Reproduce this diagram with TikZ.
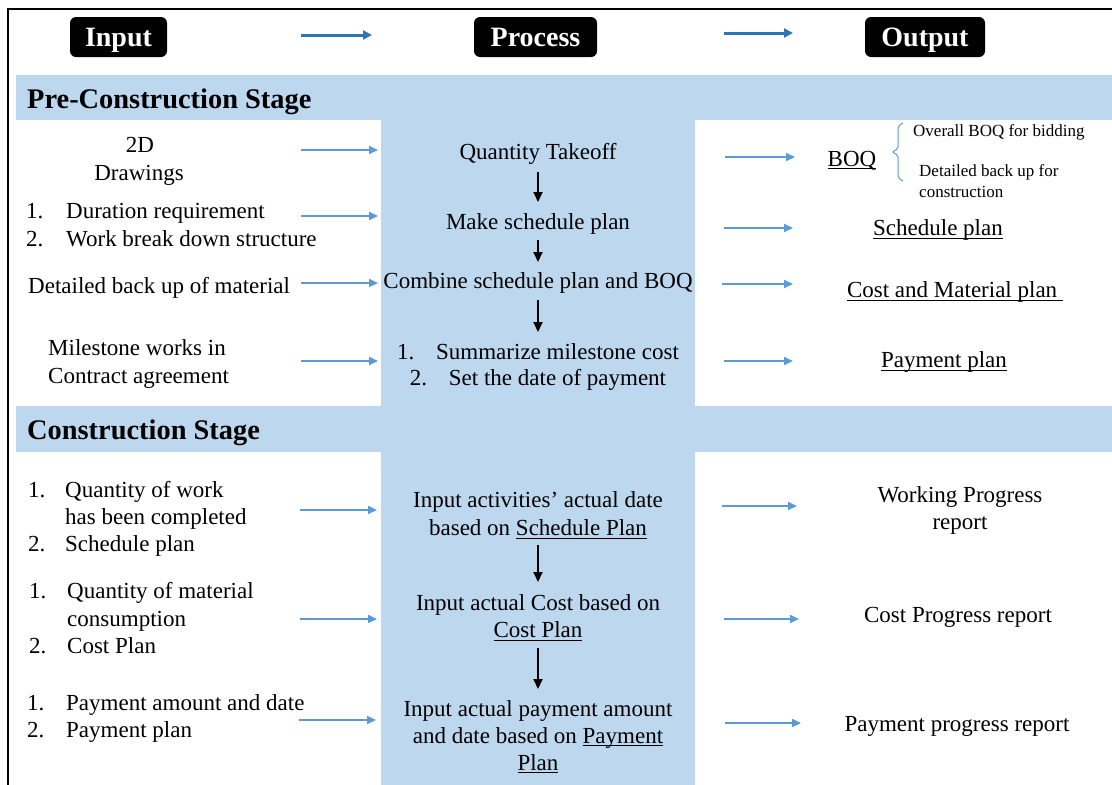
\documentclass[tikz,border=0pt]{standalone}
\usepackage{fontspec}
\setmainfont{Liberation Serif}
\usetikzlibrary{arrows.meta}

\definecolor{bandblue}{HTML}{BDD7EE}
\definecolor{flowblue}{HTML}{5B9BD5}
\definecolor{headblue}{HTML}{2E75B6}

% underline at a fixed depth below the baseline
\newcommand{\ulx}[1]{\setbox0\hbox{#1}\rlap{\vrule width\wd0 height -2.1pt depth 3.2pt}\box0}
% hanging list number of a given width
\newcommand{\listnum}[2]{\makebox[#1][l]{#2}}

\tikzset{
  body/.style={font=\fontsize{23}{27.5}\selectfont, inner sep=0pt},
  small/.style={font=\fontsize{17}{20}\selectfont, inner sep=0pt},
  stage/.style={font=\fontsize{28.4}{32}\selectfont\bfseries, inner sep=0pt, anchor=base west},
  hdr/.style={fill=black, rounded corners=6pt, text=white,
    font=\fontsize{28}{32}\selectfont\bfseries, minimum height=40pt,
    text height=19pt, text depth=0pt, inner sep=0pt},
  flow/.style={draw=flowblue, line width=2pt, -{Triangle[length=9pt,width=8pt]}},
  hflow/.style={draw=headblue, line width=3pt, -{Triangle[length=9pt,width=9pt]}},
  down/.style={draw=black, line width=2pt, -{Triangle[length=10pt,width=9pt]}},
  brace/.style={draw=flowblue, line width=1pt, rounded corners=2pt},
}

\begin{document}
\begin{tikzpicture}[x=1pt,y=-1pt]
\useasboundingbox (0,0) rectangle (1112,785);

% frame
\draw[line width=2pt] (1112,9) -- (8,9) -- (8,785);

% stage bands and the process column
\fill[bandblue] (16,75) rectangle (1112,120);
\fill[bandblue] (16,406) rectangle (1112,452);
\fill[bandblue] (381,120) rectangle (695,785);

% column headers
\node[hdr, minimum width=97pt]  (hin)  at (118.5,37) {Input};
\node[hdr, minimum width=123pt] (hpr)  at (535.5,37) {Process};
\node[hdr, minimum width=120pt] (hout) at (925,37)   {Output};
\coordinate (h1s) at (301,35);  \coordinate (h1e) at (372,35);
\coordinate (h2s) at (724,33);  \coordinate (h2e) at (793,33);
\draw[hflow] (h1s) -- (h1e);
\draw[hflow] (h2s) -- (h2e);

% stage titles
\node[stage] (pre) at (27,108) {Pre-Construction Stage};
\node[stage] (con) at (27,439) {Construction Stage};

% ---------- pre-construction: inputs ----------
\node[body, anchor=base] (i1a) at (140,152.5) {2D};
\node[body, anchor=base] (i1b) at (139,180.5) {Drawings};
\node[body, anchor=base west] (i2a) at (26,218.5) {\listnum{40pt}{1.}Duration requirement};
\node[body, anchor=base west] (i2b) at (26,246.5) {\listnum{40pt}{2.}Work break down structure};
\node[body, anchor=base west] (i3)  at (28,293.5) {Detailed back up of material};
\node[body, anchor=base west] (i4a) at (48,355.5) {Milestone works in};
\node[body, anchor=base west] (i4b) at (48,383.5) {Contract agreement};

% ---------- pre-construction: process ----------
\node[body, anchor=base] (p1)  at (538,159.5) {Quantity Takeoff};
\node[body, anchor=base] (p2)  at (538,229)   {Make schedule plan};
\node[body, anchor=base] (p3)  at (538,288.5) {Combine schedule plan and BOQ};
\node[body, anchor=base] (p4a) at (538,359.3) {1.\hspace{0.95em}Summarize milestone cost};
\node[body, anchor=base] (p4b) at (538,385)   {2.\hspace{0.95em}Set the date of payment};

% ---------- pre-construction: outputs ----------
\node[body, anchor=base] (o1) at (852,166)   {\ulx{BOQ}};
\node[small, anchor=base west] (o1a) at (913,136.7) {Overall BOQ for bidding};
\node[small, anchor=base west] (o1b) at (919,176.7) {Detailed back up for};
\node[small, anchor=base west] (o1c) at (919,197)   {construction};
\node[body, anchor=base] (o2) at (938,235.5) {\ulx{Schedule plan}};
\node[body, anchor=base] (o3) at (955,297.5) {\ulx{Cost and Material plan\ }};
\node[body, anchor=base] (o4) at (944,367.5) {\ulx{Payment plan}};

% BOQ split brace
\draw[brace] (903,123) -- (898,126) -- (898,149) -- (892,152) -- (898,155) -- (898,178) -- (903,181);

% ---------- construction: inputs ----------
\node[body, anchor=base west] (i5a) at (28,497) {\listnum{37pt}{1.}Quantity of work};
\node[body, anchor=base west] (i5b) at (65,524) {has been completed};
\node[body, anchor=base west] (i5c) at (28,551) {\listnum{37pt}{2.}Schedule plan};
\node[body, anchor=base west] (i6a) at (29,598) {\listnum{38pt}{1.}Quantity of material};
\node[body, anchor=base west] (i6b) at (67,626) {consumption};
\node[body, anchor=base west] (i6c) at (29,653) {\listnum{38pt}{2.}Cost Plan};
\node[body, anchor=base west] (i7a) at (27,710.5) {\listnum{39pt}{1.}Payment amount and date};
\node[body, anchor=base west] (i7b) at (27,737.5) {\listnum{39pt}{2.}Payment plan};

% ---------- construction: process ----------
\node[body, anchor=base] (p5a) at (538,507.5) {Input activities’ actual date};
\node[body, anchor=base] (p5b) at (538,535.5) {based on \ulx{Schedule Plan}};
\node[body, anchor=base] (p6a) at (538,610.5) {Input actual Cost based on};
\node[body, anchor=base] (p6b) at (538,637.5) {\ulx{Cost Plan}};
\node[body, anchor=base] (p7a) at (538,716)   {Input actual payment amount};
\node[body, anchor=base] (p7b) at (538,743)   {and date based on \ulx{Payment}};
\node[body, anchor=base] (p7c) at (538,770)   {\ulx{Plan}};

% ---------- construction: outputs ----------
\node[body, anchor=base] (o5a) at (960,502.5) {Working Progress};
\node[body, anchor=base] (o5b) at (960,529.5) {report};
\node[body, anchor=base] (o6)  at (958,622.5) {Cost Progress report};
\node[body, anchor=base] (o7)  at (957,731)   {Payment progress report};

% ---------- input -> process arrows ----------
\coordinate (a1s) at (301,150); \coordinate (a1e) at (378,150);
\coordinate (a2s) at (301,216); \coordinate (a2e) at (378,216);
\coordinate (a3s) at (301,283); \coordinate (a3e) at (378,283);
\coordinate (a4s) at (301,361); \coordinate (a4e) at (378,361);
\coordinate (a5s) at (300,510); \coordinate (a5e) at (377,510);
\coordinate (a6s) at (300,619); \coordinate (a6e) at (377,619);
\coordinate (a7s) at (299,720); \coordinate (a7e) at (376,720);
\foreach \k in {1,...,7} \draw[flow] (a\k s) -- (a\k e);

% ---------- process -> output arrows ----------
\coordinate (b1s) at (725,157); \coordinate (b1e) at (795,157);
\coordinate (b2s) at (724,228); \coordinate (b2e) at (793,228);
\coordinate (b3s) at (722,284); \coordinate (b3e) at (793,284);
\coordinate (b4s) at (724,361); \coordinate (b4e) at (793,361);
\coordinate (b5s) at (722,506); \coordinate (b5e) at (797,506);
\coordinate (b6s) at (724,619); \coordinate (b6e) at (799,619);
\coordinate (b7s) at (725,723); \coordinate (b7e) at (801,723);
\foreach \k in {1,...,7} \draw[flow] (b\k s) -- (b\k e);

% ---------- process sequence arrows ----------
\coordinate (d1s) at (538,172); \coordinate (d1e) at (538,202);
\coordinate (d2s) at (538,240); \coordinate (d2e) at (538,262);
\coordinate (d3s) at (538,300); \coordinate (d3e) at (538,332);
\coordinate (d5s) at (538,545); \coordinate (d5e) at (538,582);
\coordinate (d6s) at (538,648); \coordinate (d6e) at (538,689);
\draw[down] (d1s) -- (d1e);
\draw[down] (d2s) -- (d2e);
\draw[down] (d3s) -- (d3e);
\draw[down] (d5s) -- (d5e);
\draw[down] (d6s) -- (d6e);
\end{tikzpicture}
\end{document}
